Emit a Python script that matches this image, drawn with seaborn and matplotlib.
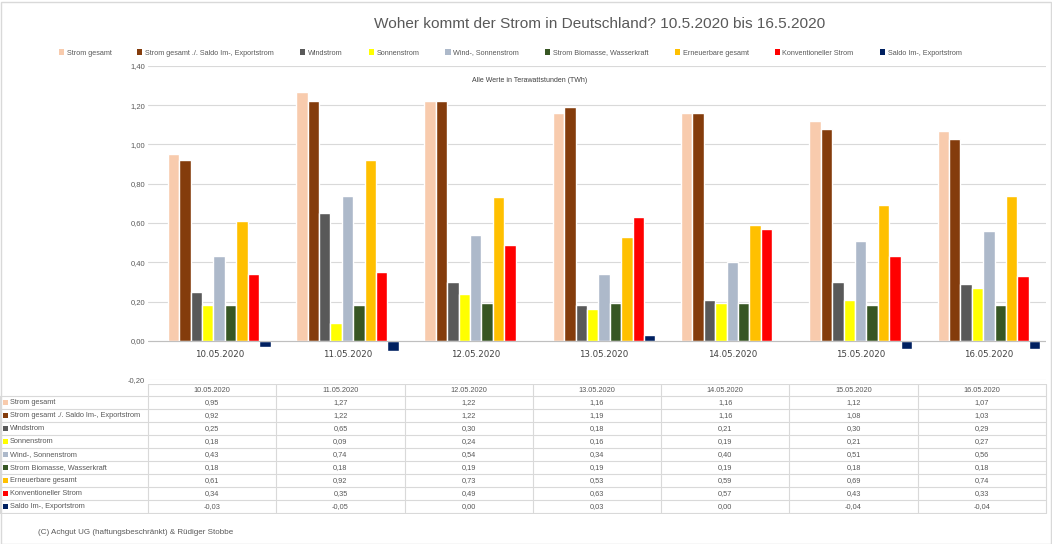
import numpy as np
import pandas as pd
import matplotlib
matplotlib.use("Agg")
import matplotlib.pyplot as plt
import seaborn as sns
from matplotlib.patches import Patch, Rectangle
from matplotlib.ticker import FuncFormatter

dates = ["10.05.2020", "11.05.2020", "12.05.2020", "13.05.2020",
         "14.05.2020", "15.05.2020", "16.05.2020"]
series = ["Strom gesamt", "Strom gesamt ./. Saldo Im-, Exportstrom", "Windstrom",
          "Sonnenstrom", "Wind-, Sonnenstrom", "Strom Biomasse, Wasserkraft",
          "Erneuerbare gesamt", "Konventioneller Strom", "Saldo Im-, Exportstrom"]
strom_gesamt = [0.95, 1.27, 1.22, 1.16, 1.16, 1.12, 1.07]
strom_ohne_saldo = [0.92, 1.22, 1.22, 1.19, 1.16, 1.08, 1.03]
windstrom = [0.25, 0.65, 0.30, 0.18, 0.21, 0.30, 0.29]
sonnenstrom = [0.18, 0.09, 0.24, 0.16, 0.19, 0.21, 0.27]
wind_sonne = [0.43, 0.74, 0.54, 0.34, 0.40, 0.51, 0.56]
biomasse_wasser = [0.18, 0.18, 0.19, 0.19, 0.19, 0.18, 0.18]
erneuerbare = [0.61, 0.92, 0.73, 0.53, 0.59, 0.69, 0.74]
konventionell = [0.34, 0.35, 0.49, 0.63, 0.57, 0.43, 0.33]
saldo = [-0.03, -0.05, 0.00, 0.03, 0.00, -0.04, -0.04]
colors = ["#F8CBAD", "#843C0C", "#595959", "#FFFF00", "#ADB9CA",
          "#375623", "#FFC000", "#FF0000", "#002060"]

values = [strom_gesamt, strom_ohne_saldo, windstrom, sonnenstrom, wind_sonne,
          biomasse_wasser, erneuerbare, konventionell, saldo]
rows = []
for name, vals in zip(series, values):
    for d, v in zip(dates, vals):
        rows.append({"Datum": d, "Reihe": name, "TWh": v})
df = pd.DataFrame(rows)

sns.set_theme(style="white")
plt.rcParams["font.family"] = ["Liberation Sans Narrow", "Liberation Sans", "DejaVu Sans"]
grey = "#595959"

W, H = 1052, 544
fig = plt.figure(figsize=(W / 100, H / 100), dpi=100)

def px_axes(x0, y0, x1, y1):
    return fig.add_axes([x0 / W, 1 - y1 / H, (x1 - x0) / W, (y1 - y0) / H])

# chart
ax = px_axes(148, 66, 1046, 380)
sns.barplot(data=df, x="Datum", y="TWh", hue="Reihe", palette=colors,
            saturation=1, width=0.8, ax=ax, errorbar=None, legend=False)
ax.set_xlim(-0.555, 6.445)
ax.set_ylim(-0.2, 1.4)
ax.set_yticks(np.arange(-0.2, 1.41, 0.2))
ax.yaxis.set_major_formatter(FuncFormatter(lambda v, p: f"{v:.2f}".replace(".", ",").replace("-0,00", "0,00")))
ax.tick_params(axis="y", labelsize=5.5, colors=grey, length=0, pad=2)
ax.set_xticks([])
ax.set_xlabel("")
ax.set_ylabel("")
ax.grid(axis="y", color="#D9D9D9", linewidth=0.8)
ax.set_axisbelow(True)
for s in ax.spines.values():
    s.set_visible(False)
ax.axhline(0, color="#BFBFBF", linewidth=0.8, zorder=1)
for i, d in enumerate(dates):
    ax.text(i, -0.072, d, ha="center", va="center", fontsize=6.2, color="#404040",
            family=["DejaVu Sans"])
ax.text(0.425, 0.955, "Alle Werte in Terawattstunden (TWh)", transform=ax.transAxes,
        ha="center", va="center", fontsize=5, color="#404040")

# title and legend
fig.text(600 / W, 1 - 24 / H, "Woher kommt der Strom in Deutschland? 10.5.2020 bis 16.5.2020",
         ha="center", va="center", fontsize=11.1, color=grey)
handles = [Patch(facecolor=c, edgecolor="none") for c in colors]
fig.legend(handles, series, loc="center", bbox_to_anchor=(510 / W, 1 - 53 / H), ncol=9,
           frameon=False, fontsize=5.2, handlelength=0.7, handleheight=0.7,
           handletextpad=0.4, columnspacing=3.6, labelcolor=grey)

# data table
tax = px_axes(0, 384, W, 514)
tax.set_xlim(0, W)
tax.set_ylim(514, 384)
tax.axis("off")
col_edges = [148 + i * (1046 - 148) / 7 for i in range(8)]
row_top = 384
row_h = 13
line_c = "#D9D9D9"
tax.plot([148, 1046], [row_top, row_top], color=line_c, lw=0.8)
for r in range(10):
    y = row_top + 12 + r * row_h
    tax.plot([0, 1046], [y, y], color=line_c, lw=0.8)
for i, x in enumerate(col_edges):
    tax.plot([x, x], [row_top, row_top + 12 + 9 * row_h], color=line_c, lw=0.8)
tax.plot([0, 0], [row_top + 12, row_top + 12 + 9 * row_h], color=line_c, lw=0.8)
for j, d in enumerate(dates):
    cx = (col_edges[j] + col_edges[j + 1]) / 2
    tax.text(cx, row_top + 6, d, ha="center", va="center", fontsize=5.3, color=grey)
for r, (name, vals, c) in enumerate(zip(series, values, colors)):
    cy = row_top + 12 + r * row_h + row_h / 2
    tax.add_patch(Rectangle((3, cy - 2.5), 5, 5, facecolor=c, edgecolor="none"))
    tax.text(10, cy, name, ha="left", va="center", fontsize=5.3, color=grey)
    for j, v in enumerate(vals):
        cx = (col_edges[j] + col_edges[j + 1]) / 2
        tax.text(cx, cy, f"{v:.2f}".replace(".", ","), ha="center", va="center",
                 fontsize=5.3, color=grey)

fig.text(38 / W, 1 - 532 / H, "(C) Achgut UG (haftungsbeschränkt) & Rüdiger Stobbe",
         ha="left", va="center", fontsize=5.8, color=grey)

fig.add_artist(Rectangle((0.5 / W, 0.5 / H), 1 - 2 / W, 1 - 2 / H, transform=fig.transFigure,
                         facecolor="none", edgecolor="#D9D9D9", lw=1))

fig.savefig("out.png", dpi=100)
